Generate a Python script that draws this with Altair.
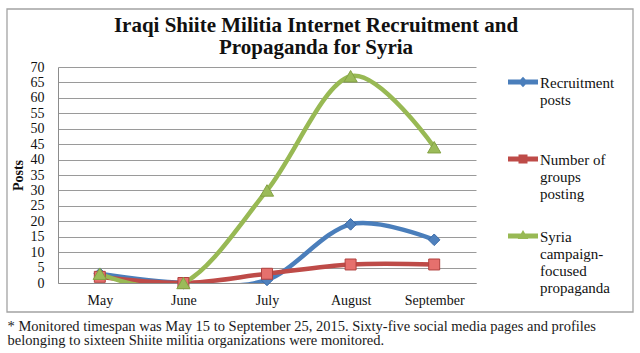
import altair as alt
import pandas as pd

months = ["May", "June", "July", "August", "September"]
series_names = ["Recruitment posts", "Number of groups posting", "Syria campaign-focused propaganda"]
recruitment = [3, 0, 1, 19, 14]
groups = [2, 0, 3, 6, 6]
syria = [3, 0, 30, 67, 44]
legend_lines = [["Recruitment", "posts"], ["Number of", "groups", "posting"],
                ["Syria", "campaign-", "focused", "propaganda"]]
y_ticks = list(range(0, 75, 5))
title_lines = ["Iraqi Shiite Militia Internet Recruitment and", "Propaganda for Syria"]
footnote_lines = ["* Monitored timespan was May 15 to September 25, 2015. Sixty-five social media pages and profiles",
                  "belonging to sixteen Shiite militia organizations were monitored."]

line_colors = ["#4a7ebb", "#be4b48", "#98b954"]
marker_fills = ["#4f81bd", "#e6706d", "#9bbb59"]
marker_strokes = ["#3a6aa8", "#b0413e", "#84a244"]
marker_shapes = ["diamond", "square", "triangle-up"]
marker_sizes = [135, 120, 175]
legend_paths = [
    "M-1,-0.57 L1,-0.57 L1,-0.23 L-1,-0.23 Z M0,-0.75 L0.33,-0.4 L0,-0.05 L-0.33,-0.4 Z",
    "M-1,-0.57 L1,-0.57 L1,-0.23 L-1,-0.23 Z M-0.3,-0.7 L0.3,-0.7 L0.3,-0.1 L-0.3,-0.1 Z",
    "M-1,-0.57 L1,-0.57 L1,-0.23 L-1,-0.23 Z M0,-0.8 L0.35,-0.2 L-0.35,-0.2 Z",
]

FONT = "Liberation Serif"

rows = []
for name, vals in zip(series_names, [recruitment, groups, syria]):
    for m, v in zip(months, vals):
        rows.append({"series": name, "month": m, "value": v})
df = pd.DataFrame(rows)

# pad every legend label to the same number of lines so entries are evenly spaced
max_lines = max(len(l) for l in legend_lines)
padded = [l + [""] * (max_lines - len(l)) for l in legend_lines]
label_expr = ""
for name, lines in zip(series_names[:-1], padded[:-1]):
    label_expr += f"datum.label == '{name}' ? {lines!r} : "
label_expr += repr(padded[-1])

x_enc = alt.X("month:N", sort=months, scale=alt.Scale(type="point", padding=0.5),
              axis=alt.Axis(title=footnote_lines, labelAngle=0, labelFont=FONT, labelFontSize=14,
                            labelColor="#111", labelPadding=10, ticks=False, tickSize=0,
                            domain=True, domainColor="#8c8c8c", domainWidth=1, grid=False,
                            titleX=-51, titleY=47, titleAlign="left", titleBaseline="alphabetic",
                            titleAngle=0, titleFont=FONT, titleFontSize=14.5, titleFontWeight="normal",
                            titleColor="#1a1a1a", titleLineHeight=14.5))
y_enc = alt.Y("value:Q", scale=alt.Scale(domain=[0, 70], nice=False, zero=True),
              axis=alt.Axis(title="Posts", values=y_ticks, labelFont=FONT, labelFontSize=14,
                            labelColor="#111", labelPadding=14, ticks=False, tickSize=0,
                            domain=True, domainColor="#8c8c8c", domainWidth=1,
                            grid=True, gridColor="#9a9a9a", gridWidth=1,
                            titleFont=FONT, titleFontSize=14, titleFontWeight="bold", titleColor="#111",
                            titleX=-40, titleY=108, titleAngle=-90, titleAlign="center",
                            titleBaseline="middle"))
color_scale = alt.Scale(domain=series_names, range=line_colors)

legend_def = dict(title=None, orient="none", legendX=450, legendY=6, symbolSize=900,
                  symbolStrokeWidth=0, symbolOpacity=1, labelExpr=label_expr, labelFont=FONT,
                  labelFontSize=15, labelColor="#111", labelBaseline="alphabetic", labelOffset=2,
                  labelLimit=300, rowPadding=8, padding=0)

base = alt.Chart(df)

lines = base.mark_line(interpolate="cardinal", strokeWidth=4.5, clip=True, strokeCap="round",
                       strokeJoin="round").encode(
    x=x_enc, y=y_enc,
    color=alt.Color("series:N", scale=color_scale, legend=alt.Legend(**legend_def), sort=series_names))

point_layers = []
for i, name in enumerate(series_names):
    point_layers.append(
        base.transform_filter(alt.datum.series == name).mark_point(
            shape=marker_shapes[i], filled=True, fill=marker_fills[i], stroke=marker_strokes[i],
            strokeWidth=1, size=marker_sizes[i], opacity=1).encode(x=x_enc, y=y_enc))

legend_layer = base.mark_point(filled=True, opacity=0).encode(
    x=x_enc, y=y_enc,
    color=alt.Color("series:N", scale=color_scale, legend=alt.Legend(**legend_def), sort=series_names),
    shape=alt.Shape("series:N", scale=alt.Scale(domain=series_names, range=legend_paths),
                    legend=alt.Legend(**legend_def), sort=series_names))

border = alt.Chart(pd.DataFrame({"k": [0]})).mark_rect(
    fillOpacity=0, stroke="#a3a3a3", strokeWidth=1.3).encode(
    x=alt.value(-51), x2=alt.value(575), y=alt.value(-58), y2=alt.value(245))

chart = alt.layer(border, lines, *point_layers, legend_layer).properties(
    width=418, height=216,
    title=alt.Title(text=title_lines, font=FONT, fontSize=21, fontWeight="bold", color="#111",
                    anchor="middle", dx=49, lineHeight=22, offset=-50),
    autosize=alt.AutoSizeParams(type="none"),
    padding={"left": 58, "top": 67, "right": 164, "bottom": 70},
    background="white",
).configure_view(stroke=None)

chart.save("out.html", embed_options={"renderer": "svg", "actions": False})
